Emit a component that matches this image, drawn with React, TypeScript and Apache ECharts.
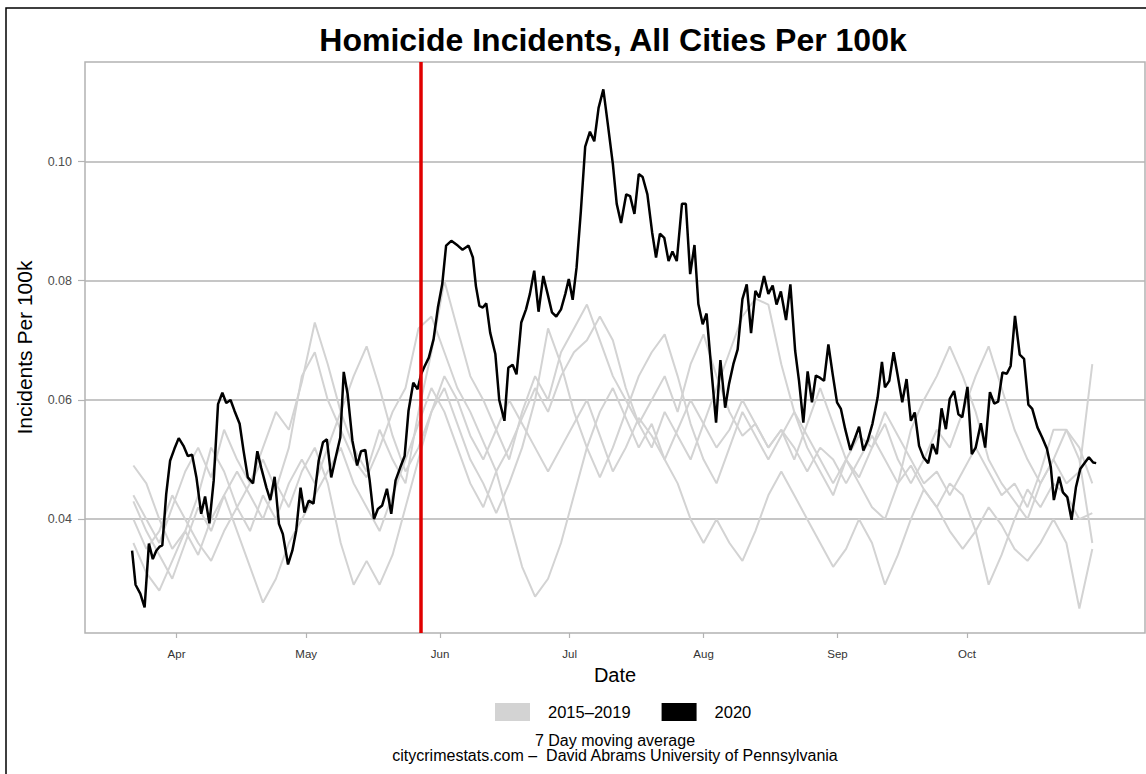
import React, { useEffect, useRef } from "react";
import * as echarts from "echarts";

// ---- axis ticks (day of year 2020) ----
const monthTickDays = [91, 121, 152, 182, 213, 244, 274];
const monthTickLabels = ["Apr", "May", "Jun", "Jul", "Aug", "Sep", "Oct"];
const yTickValues = [0.04, 0.06, 0.08, 0.1];
const eventDay = 147.5; // red vertical marker

// ---- 2020 series (day of year, value) ----
const blackDays = [
  80.7, 81.5, 82.6, 83.6, 84.6, 85.5, 86.3, 87.1, 87.7, 88.6, 89.5, 90.5, 91.5, 92.6, 93.6, 94.6, 95.6, 96.7, 97.6, 98.6,
  99.6, 100.6, 101.6, 102.5, 103.5, 104.4, 105.6, 106.5, 107.5, 108.7, 109.7, 110.6, 111.8, 112.7, 113.7, 114.7, 115.6, 116.8, 117.8, 118.7,
  119.7, 120.6, 121.6, 122.7,
  123.9, 124.9, 125.8, 126.8, 128.0, 128.9, 129.7, 130.6, 131.7, 132.8, 133.7, 134.7, 135.7, 136.7, 137.6, 138.6, 139.7, 140.7, 141.7, 142.8,
  143.8, 144.7, 145.8, 146.8, 147.6, 148.4, 149.4, 150.5, 151.5, 152.5, 153.4, 154.6, 156.1, 157.2, 158.6, 159.6, 160.3, 161.1, 161.9, 162.7,
  163.6, 164.8, 165.7, 166.9, 167.8,
  168.8, 169.7, 170.8, 171.9, 172.8, 173.8, 174.8, 175.9, 176.9, 177.9, 178.9, 180.0, 181.0, 181.8, 182.7, 183.6, 184.6, 185.6, 186.7, 187.7,
  188.7, 189.8, 190.8, 192.0, 192.9, 193.9, 195.1, 196.0, 197.0, 198.0, 198.9, 200.0, 201.1, 202.0, 202.9, 203.9, 204.9, 205.8, 206.8, 208.0,
  208.9, 209.9, 210.9,
  211.8, 212.8, 213.7, 214.7, 215.9, 216.9, 218.0, 218.9, 219.9, 220.9, 222.0, 223.0, 224.0, 225.0, 225.9, 227.0, 228.0, 229.0, 229.9, 230.9,
  232.1, 233.1, 234.2, 235.1, 236.1, 237.1, 238.1, 239.0, 240.0, 240.9, 241.9, 242.9, 243.9, 244.8, 245.8, 247.0, 248.1, 249.0, 250.0, 251.0,
  252.1, 253.3, 254.3,
  255.0, 256.0, 257.0, 257.9, 259.0, 260.0, 261.0, 261.9, 262.9, 263.9, 265.0, 266.0, 267.0, 268.1, 269.1, 270.0, 271.0, 272.0, 272.9, 274.1,
  275.1, 276.0, 277.2, 278.2, 279.3, 280.3, 281.2, 282.2, 283.2, 284.1, 285.1, 286.2, 287.2, 288.2, 289.1, 290.3, 291.4, 292.5, 293.4, 294.1,
  295.3, 296.2, 297.2, 298.2, 299.2, 300.2, 301.3, 302.2, 303.2, 303.9,
];
const blackValues = [
  0.0347, 0.029, 0.0275, 0.0252, 0.0359, 0.0333, 0.0347, 0.0354, 0.0356, 0.0442, 0.0498, 0.0518, 0.0536, 0.0523, 0.0506, 0.0508, 0.047, 0.0409, 0.0438, 0.0393,
  0.0465, 0.0593, 0.0612, 0.0595, 0.06, 0.0582, 0.056, 0.0515, 0.047, 0.046, 0.0514, 0.0486, 0.0453, 0.0432, 0.0471, 0.0392, 0.0375, 0.0324, 0.0347, 0.0381,
  0.0453, 0.0411, 0.0431, 0.0426,
  0.0498, 0.0529, 0.0534, 0.047, 0.0509, 0.0537, 0.0647, 0.061, 0.0532, 0.049, 0.0514, 0.0516, 0.0465, 0.04, 0.0417, 0.0423, 0.0451, 0.0409, 0.0465, 0.0487,
  0.0506, 0.0582, 0.0629, 0.0618, 0.0643, 0.0656, 0.0671, 0.0702, 0.0755, 0.0794, 0.0859, 0.0867, 0.0859, 0.0852, 0.0859, 0.0839, 0.0791, 0.0758, 0.0755, 0.0762,
  0.0713, 0.0677, 0.06, 0.0565, 0.0654,
  0.0659, 0.0643, 0.073, 0.0752, 0.0778, 0.0817, 0.0748, 0.0808, 0.0778, 0.0747, 0.074, 0.0752, 0.0778, 0.0803, 0.0768, 0.0822, 0.0917, 0.1025, 0.105, 0.1034,
  0.109, 0.1121, 0.1065, 0.0996, 0.0929, 0.0897, 0.0945, 0.0942, 0.0912, 0.0979, 0.0974, 0.0945, 0.0881, 0.0839, 0.0879, 0.0872, 0.0833, 0.0849, 0.0833, 0.0929,
  0.0929, 0.0811, 0.086,
  0.0761, 0.0727, 0.0745, 0.066, 0.0562, 0.0667, 0.0587, 0.0627, 0.066, 0.0685, 0.0769, 0.0794, 0.0712, 0.0783, 0.0772, 0.0808, 0.0778, 0.0792, 0.076, 0.0782,
  0.0734, 0.0794, 0.0683, 0.0632, 0.0562, 0.0648, 0.0596, 0.0641, 0.0637, 0.0632, 0.0693, 0.0643, 0.0596, 0.0585, 0.0551, 0.0516, 0.0537, 0.0555, 0.0515, 0.0532,
  0.056, 0.0604, 0.0664,
  0.0621, 0.0632, 0.068, 0.0643, 0.0596, 0.0635, 0.0565, 0.0579, 0.0523, 0.0504, 0.0494, 0.0526, 0.0509, 0.0586, 0.0551, 0.0602, 0.0615, 0.0576, 0.0571, 0.0622,
  0.0509, 0.052, 0.0561, 0.052, 0.0613, 0.0594, 0.0597, 0.0646, 0.0644, 0.0657, 0.0741, 0.0676, 0.0669, 0.0592, 0.0585, 0.0554, 0.0537, 0.0518, 0.0487, 0.0432,
  0.0471, 0.0445, 0.0437, 0.0399, 0.0453, 0.0484, 0.0495, 0.0504, 0.0495, 0.0494,
];

// ---- 2015-2019 series (shared days) ----
const greyDays = [
  81, 84, 87, 90, 93, 96, 99, 102, 105, 108, 111, 114, 117, 120, 123, 126, 129, 132, 135, 138,
  141, 144, 147, 150, 153, 156, 159, 162, 165, 168, 171, 174, 177, 180, 183, 186, 189, 192, 195, 198,
  201, 204, 207, 210, 213, 216, 219, 222, 225, 228, 231, 234, 237, 240, 243, 246, 249, 252, 255, 258,
  261, 264, 267, 270, 273, 276, 279, 282, 285, 288, 291, 294, 297, 300, 303,
];
const grey2015 = [
  0.044, 0.04, 0.036, 0.042, 0.048, 0.052, 0.047, 0.055, 0.05, 0.046, 0.052, 0.058, 0.055, 0.063, 0.073, 0.066, 0.058, 0.052, 0.048, 0.055,
  0.05, 0.046, 0.058, 0.068, 0.08, 0.072, 0.064, 0.06, 0.055, 0.05, 0.058, 0.064, 0.06, 0.068, 0.072, 0.076, 0.07, 0.064, 0.06, 0.056,
  0.052, 0.058, 0.054, 0.05, 0.056, 0.062, 0.068, 0.074, 0.077, 0.076, 0.066, 0.058, 0.052, 0.048, 0.044, 0.05, 0.046, 0.042, 0.04, 0.046,
  0.055, 0.06, 0.064, 0.069, 0.064, 0.058, 0.05, 0.046, 0.043, 0.04, 0.046, 0.05, 0.046, 0.048, 0.066,
];
const grey2016 = [
  0.049, 0.046, 0.04, 0.035, 0.038, 0.044, 0.052, 0.048, 0.042, 0.046, 0.05, 0.045, 0.052, 0.064, 0.068, 0.06, 0.055, 0.05, 0.047, 0.052,
  0.058, 0.062, 0.072, 0.074, 0.068, 0.062, 0.058, 0.053, 0.048, 0.052, 0.057, 0.062, 0.058, 0.064, 0.068, 0.07, 0.074, 0.07, 0.062, 0.056,
  0.06, 0.064, 0.058, 0.066, 0.071, 0.064, 0.058, 0.054, 0.056, 0.052, 0.055, 0.05, 0.056, 0.062, 0.056, 0.05, 0.047, 0.052, 0.056, 0.05,
  0.046, 0.05, 0.055, 0.052, 0.058, 0.064, 0.069, 0.062, 0.055, 0.05, 0.046, 0.05, 0.055, 0.052, 0.046,
];
const grey2017 = [
  0.036, 0.031, 0.028, 0.033, 0.038, 0.034, 0.04, 0.044, 0.038, 0.032, 0.026, 0.03, 0.036, 0.04, 0.044, 0.048, 0.052, 0.046, 0.042, 0.038,
  0.044, 0.05, 0.056, 0.062, 0.058, 0.052, 0.046, 0.042, 0.048, 0.04, 0.032, 0.027, 0.03, 0.036, 0.044, 0.052, 0.058, 0.062, 0.057, 0.052,
  0.056, 0.05, 0.046, 0.04, 0.036, 0.04, 0.036, 0.033, 0.038, 0.044, 0.048, 0.044, 0.04, 0.036, 0.032, 0.035, 0.04, 0.036, 0.029, 0.034,
  0.04, 0.045, 0.042, 0.038, 0.035, 0.038, 0.042, 0.039, 0.035, 0.033, 0.036, 0.04, 0.036, 0.025, 0.035,
];
const grey2018 = [
  0.043, 0.038, 0.034, 0.03, 0.036, 0.042, 0.038, 0.044, 0.048, 0.044, 0.04, 0.046, 0.042, 0.048, 0.052, 0.046, 0.036, 0.029, 0.033, 0.029,
  0.034, 0.042, 0.05, 0.058, 0.064, 0.06, 0.054, 0.05, 0.055, 0.06, 0.056, 0.052, 0.048, 0.052, 0.056, 0.06, 0.054, 0.048, 0.052, 0.057,
  0.054, 0.05, 0.055, 0.06, 0.056, 0.052, 0.055, 0.06, 0.056, 0.052, 0.055, 0.052, 0.048, 0.052, 0.05, 0.046, 0.05, 0.054, 0.05, 0.046,
  0.049, 0.045, 0.042, 0.046, 0.044, 0.038, 0.029, 0.034, 0.04, 0.045, 0.042, 0.046, 0.044, 0.04, 0.041,
];
const grey2019 = [
  0.04, 0.035, 0.038, 0.044, 0.04, 0.036, 0.033, 0.038, 0.042, 0.038, 0.044, 0.04, 0.046, 0.05, 0.046, 0.052, 0.058, 0.064, 0.069, 0.062,
  0.054, 0.048, 0.052, 0.058, 0.062, 0.056, 0.05, 0.046, 0.041, 0.046, 0.052, 0.06, 0.072, 0.066, 0.058, 0.052, 0.047, 0.052, 0.058, 0.064,
  0.068, 0.071, 0.064, 0.056, 0.05, 0.046, 0.052, 0.058, 0.054, 0.05, 0.054, 0.058, 0.054, 0.05, 0.046, 0.05, 0.054, 0.052, 0.058, 0.054,
  0.05, 0.046, 0.048, 0.044, 0.048, 0.052, 0.048, 0.044, 0.046, 0.042, 0.048, 0.055, 0.055, 0.05, 0.036,
];
const greySeries = [grey2015, grey2016, grey2017, grey2018, grey2019];

const FONT = "'Liberation Sans', Arial, Helvetica, sans-serif";
const GRID_GREY = "#b3b3b3";

export default function App() {
  const ref = useRef<HTMLDivElement>(null);

  useEffect(() => {
    if (!ref.current) return;
    const chart = echarts.init(ref.current, null, { renderer: "svg" });

    const zip = (xs: number[], ys: number[]) => xs.map((x, i) => [x, ys[i]]);

    const series: any[] = greySeries.map((vals) => ({
      name: "2015\u20132019",
      type: "line",
      data: zip(greyDays, vals),
      showSymbol: false,
      symbol: "none",
      lineStyle: { color: "#d3d3d3", width: 2 },
      itemStyle: { color: "#d3d3d3" },
      z: 2,
      silent: true,
    }));
    series.push({
      name: "2020",
      type: "line",
      data: zip(blackDays, blackValues),
      showSymbol: false,
      symbol: "none",
      lineStyle: { color: "#000000", width: 2.5 },
      itemStyle: { color: "#000000" },
      z: 3,
      silent: true,
    });
    series.push({
      name: "event",
      type: "line",
      data: [],
      z: 5,
      silent: true,
      markLine: {
        silent: true,
        symbol: "none",
        label: { show: false },
        lineStyle: { color: "#e00000", width: 3.5, type: "solid", opacity: 1 },
        data: [{ xAxis: eventDay }],
      },
    });

    chart.setOption({
      animation: false,
      backgroundColor: "#ffffff",
      grid: {
        left: 85,
        top: 62,
        width: 1060,
        height: 571,
        show: true,
        borderColor: GRID_GREY,
        borderWidth: 1.5,
        backgroundColor: "transparent",
        containLabel: false,
        outerBoundsMode: "none",
      },
      legend: {
        left: 490,
        top: 698,
        itemWidth: 35,
        itemHeight: 18,
        itemGap: 31,
        icon: "rect",
        selectedMode: false,
        data: [
          { name: "2015\u20132019", itemStyle: { color: "#d3d3d3" } },
          { name: "2020", itemStyle: { color: "#000000" } },
        ],
        textStyle: { fontFamily: FONT, fontSize: 16.5, color: "#000", padding: [0, 0, 0, 13] },
      },
      xAxis: {
        type: "value",
        min: 69.8,
        max: 315.2,
        name: "Date",
        nameLocation: "middle",
        nameGap: 32,
        nameTextStyle: { fontFamily: FONT, fontSize: 20, color: "#000" },
        axisLine: { show: false },
        splitLine: { show: false },
        axisTick: {
          show: true,
          customValues: monthTickDays,
          length: 5,
          lineStyle: { color: GRID_GREY, width: 1.2 },
        },
        axisLabel: {
          customValues: monthTickDays,
          formatter: (v: number) => {
            const i = monthTickDays.findIndex((d) => Math.abs(d - v) < 0.01);
            return i >= 0 ? monthTickLabels[i] : "";
          },
          margin: 15,
          fontFamily: FONT,
          fontSize: 11.5,
          color: "#333333",
        },
      },
      yAxis: {
        type: "value",
        min: 0.0209,
        max: 0.1167,
        name: "Incidents Per 100k",
        nameLocation: "middle",
        nameGap: 50,
        nameTextStyle: { fontFamily: FONT, fontSize: 21, color: "#000" },
        axisLine: { show: false },
        axisTick: {
          show: true,
          customValues: yTickValues,
          length: 7,
          lineStyle: { color: GRID_GREY, width: 1.2 },
        },
        axisLabel: {
          customValues: yTickValues,
          formatter: (v: number) => v.toFixed(2),
          margin: 13,
          fontFamily: FONT,
          fontSize: 12.5,
          color: "#4d4d4d",
        },
        splitLine: { show: true, lineStyle: { color: GRID_GREY, width: 1.5 } },
      },
      series,
      graphic: [
        {
          type: "polyline",
          silent: true,
          shape: { points: [[6, 774], [6, 8], [1146, 8]] },
          style: { stroke: "#000", lineWidth: 1.5, fill: "none" },
        },
        {
          type: "text",
          x: 613,
          y: 40,
          silent: true,
          style: {
            text: "Homicide Incidents, All Cities Per 100k",
            align: "center",
            verticalAlign: "middle",
            fontFamily: FONT,
            fontSize: 32,
            fontWeight: "bold",
            fill: "#000",
          },
        },
        {
          type: "text",
          x: 615,
          y: 740,
          silent: true,
          style: {
            text: "7 Day moving average",
            align: "center",
            verticalAlign: "middle",
            fontFamily: FONT,
            fontSize: 16,
            fill: "#000",
          },
        },
        {
          type: "text",
          x: 615,
          y: 755,
          silent: true,
          style: {
            text: "citycrimestats.com \u2013  David Abrams University of Pennsylvania",
            align: "center",
            verticalAlign: "middle",
            fontFamily: FONT,
            fontSize: 16,
            fill: "#000",
          },
        },
      ],
    });

    return () => chart.dispose();
  }, []);

  return (
    <div
      ref={ref}
      style={{ position: "absolute", left: 0, top: 0, width: 1146, height: 774, background: "#fff" }}
    />
  );
}
